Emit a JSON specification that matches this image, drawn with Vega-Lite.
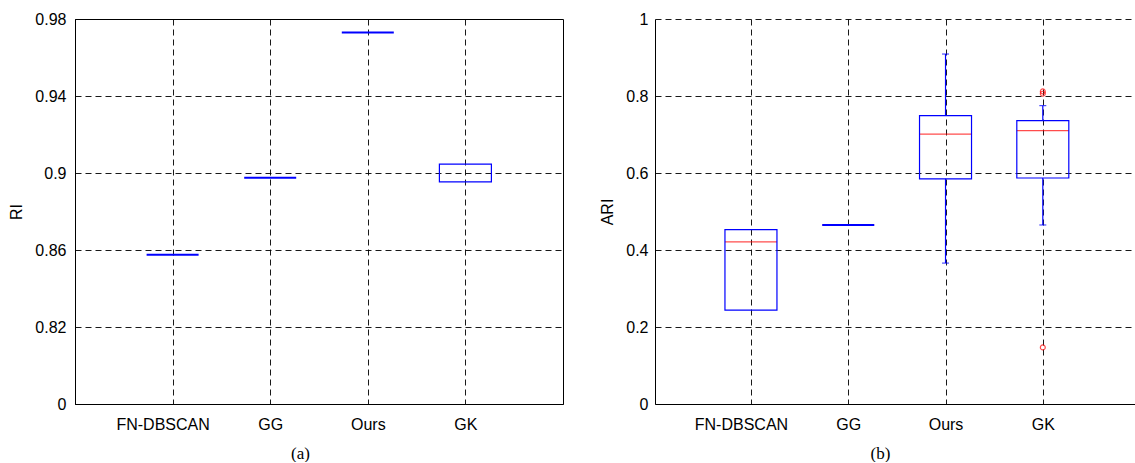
{
  "$schema": "https://vega.github.io/schema/vega-lite/v6.json",
  "padding": {"left": 8, "top": 10, "right": 0, "bottom": 0},
  "bounds": "flush",
  "spacing": 92,
  "background": "white",
  "datasets": {
    "ri": [
      {"method": "FN-DBSCAN", "q1": 0.8575, "q3": 0.8575},
      {"method": "GG", "q1": 0.8975, "q3": 0.8975},
      {"method": "Ours", "q1": 0.973, "q3": 0.973},
      {"method": "GK", "q1": 0.8954, "q3": 0.9046}
    ],
    "ari": [
      {"method": "FN-DBSCAN", "lo": 0.244, "q1": 0.244, "med": 0.421, "q3": 0.453, "hi": 0.453},
      {"method": "GG", "lo": 0.465, "q1": 0.465, "med": 0.465, "q3": 0.465, "hi": 0.465},
      {"method": "Ours", "lo": 0.366, "q1": 0.585, "med": 0.701, "q3": 0.749, "hi": 0.909},
      {"method": "GK", "lo": 0.465, "q1": 0.587, "med": 0.71, "q3": 0.736, "hi": 0.775}
    ],
    "outliers": [
      {"method": "GK", "value": 0.812},
      {"method": "GK", "value": 0.806},
      {"method": "GK", "value": 0.147}
    ]
  },
  "config": {
    "font": "Liberation Sans",
    "axis": {
      "labelFont": "Liberation Sans",
      "titleFont": "Liberation Sans",
      "labelFontSize": 16,
      "titleFontSize": 16,
      "titleFontWeight": "normal",
      "labelColor": "#000",
      "titleColor": "#000",
      "domainColor": "#000",
      "domainWidth": 1,
      "tickSize": 0,
      "gridColor": "#000",
      "gridDash": [6, 4],
      "gridOpacity": 0.9,
      "gridWidth": 1
    },
    "view": {"stroke": "#000", "strokeWidth": 1}
  },
  "hconcat": [
    {
      "width": 488,
      "height": 385,
      "data": {"name": "ri"},
      "encoding": {
        "x": {
          "field": "method",
          "type": "nominal",
          "sort": ["FN-DBSCAN", "GG", "Ours", "GK"],
          "scale": {"type": "point", "padding": 1},
          "axis": {
            "title": "(a)",
            "titleFont": "Liberation Serif",
            "titleFontSize": 17,
            "titleX": 225,
            "titleY": 49,
            "titleBaseline": "middle",
            "titleAlign": "center",
            "grid": true,
            "labelAngle": 0,
            "labelPadding": 12,
            "labelOffset": {"condition": {"test": "datum.value === 'FN-DBSCAN'", "value": -10}, "value": 0}
          }
        }
      },
      "layer": [
        {
          "mark": {"type": "bar", "width": 52, "fill": "transparent", "stroke": "#0000ff"},
          "encoding": {
            "y": {
              "field": "q1",
              "type": "quantitative",
              "scale": {"domain": [0.78, 0.98], "nice": false, "zero": false},
              "axis": {
                "title": "RI",
                "values": [0.78, 0.82, 0.86, 0.9, 0.94, 0.98],
                "labelExpr": "datum.value < 0.8 ? '0' : format(datum.value, '.2~f')",
                "grid": true,
                "labelPadding": 9,
                "titlePadding": 10
              }
            },
            "y2": {"field": "q3"},
            "strokeWidth": {"condition": {"test": "datum.q1 === datum.q3", "value": 2}, "value": 1.2}
          }
        }
      ]
    },
    {
      "width": 480,
      "height": 385,
      "view": {"stroke": null},
      "encoding": {
        "x": {
          "field": "method",
          "type": "nominal",
          "sort": ["FN-DBSCAN", "GG", "Ours", "GK"],
          "scale": {"type": "point", "padding": 0.967, "align": 0.51},
          "axis": {
            "title": "(b)",
            "titleFont": "Liberation Serif",
            "titleFontSize": 17,
            "titleX": 225,
            "titleY": 49,
            "titleBaseline": "middle",
            "titleAlign": "center",
            "grid": true,
            "labelAngle": 0,
            "labelPadding": 12,
            "labelOffset": {"condition": {"test": "datum.value === 'FN-DBSCAN'", "value": -10}, "value": 0}
          }
        }
      },
      "layer": [
        {
          "mark": {"type": "rule", "color": "#000", "strokeWidth": 1},
          "encoding": {"y": {"datum": 1, "type": "quantitative"}, "x": null}
        },
        {
          "data": {"name": "ari"},
          "mark": {"type": "rule", "color": "#0000ff", "strokeWidth": 1.2},
          "encoding": {"y": {"field": "q3", "type": "quantitative"}, "y2": {"field": "hi"}}
        },
        {
          "data": {"name": "ari"},
          "mark": {"type": "rule", "color": "#0000ff", "strokeWidth": 1.2},
          "encoding": {"y": {"field": "lo", "type": "quantitative"}, "y2": {"field": "q1"}}
        },
        {
          "data": {"name": "ari"},
          "transform": [{"filter": "datum.hi > datum.q3"}],
          "mark": {"type": "tick", "color": "#0000ff", "size": 7, "thickness": 1.2},
          "encoding": {"y": {"field": "hi", "type": "quantitative"}}
        },
        {
          "data": {"name": "ari"},
          "transform": [{"filter": "datum.lo < datum.q1"}],
          "mark": {"type": "tick", "color": "#0000ff", "size": 7, "thickness": 1.2},
          "encoding": {"y": {"field": "lo", "type": "quantitative"}}
        },
        {
          "data": {"name": "ari"},
          "mark": {"type": "tick", "color": "#ff0000", "size": 52, "thickness": 1.2},
          "encoding": {"y": {"field": "med", "type": "quantitative"}}
        },
        {
          "data": {"name": "ari"},
          "mark": {"type": "bar", "width": 52, "fill": "transparent", "stroke": "#0000ff"},
          "encoding": {
            "y": {
              "field": "q1",
              "type": "quantitative",
              "scale": {"domain": [0, 1], "nice": false},
              "axis": {
                "title": "ARI",
                "values": [0, 0.2, 0.4, 0.6, 0.8, 1],
                "labelExpr": "format(datum.value, '.1~f')",
                "grid": true,
                "labelPadding": 7,
                "titlePadding": 10
              }
            },
            "y2": {"field": "q3"},
            "strokeWidth": {"condition": {"test": "datum.q1 === datum.q3", "value": 2}, "value": 1.2}
          }
        },
        {
          "data": {"name": "outliers"},
          "mark": {"type": "point", "shape": "circle", "filled": false, "color": "#ff0000", "size": 24, "strokeWidth": 1.2},
          "encoding": {"y": {"field": "value", "type": "quantitative"}}
        }
      ]
    }
  ]
}
